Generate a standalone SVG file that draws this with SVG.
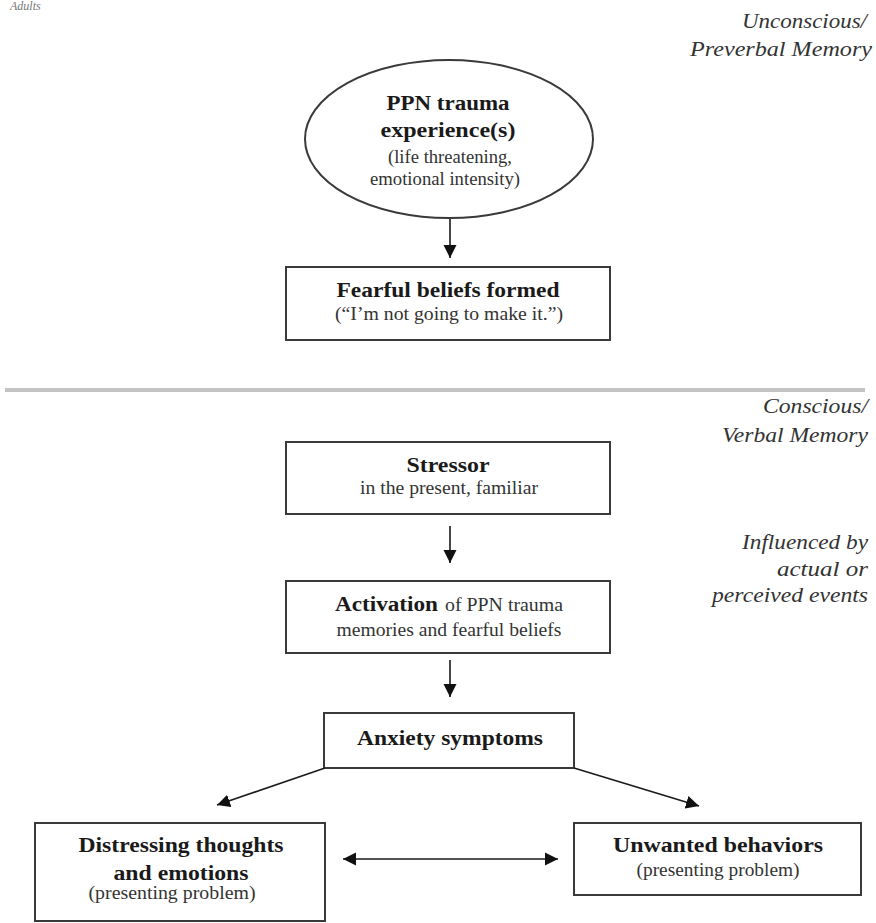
<svg xmlns="http://www.w3.org/2000/svg" width="876" height="923" viewBox="0 0 876 923">
<defs>
<style>
.bx{fill:#fff;stroke:#3a3a3a;stroke-width:2}
.t{font-family:"Liberation Serif","Times New Roman",serif;fill:#1a1a1a;text-anchor:middle}
.b{font-weight:bold;font-size:20px}
.r{font-size:18px;fill:#333}
.i{font-family:"Liberation Serif","Times New Roman",serif;font-style:italic;font-size:20px;fill:#333;text-anchor:end}
.c{stroke:#1a1a1a;stroke-width:1.6;fill:none}
</style>
<marker id="ah" markerUnits="userSpaceOnUse" markerWidth="14" markerHeight="14" viewBox="0 0 14 14" refX="13" refY="7" orient="auto-start-reverse">
<path d="M0,0.5 L13,7 L0,13.5 Z" fill="#111"/>
</marker>
</defs>
<rect width="876" height="923" fill="#fff"/>

<text x="10" y="10" class="i" style="text-anchor:start;font-size:12px;fill:#777">Adults</text>

<g id="labels">
<text x="867" y="28" class="i" textLength="125" lengthAdjust="spacingAndGlyphs">Unconscious/</text>
<text x="872" y="56" class="i" textLength="182" lengthAdjust="spacingAndGlyphs">Preverbal Memory</text>
<text x="868" y="413" class="i" textLength="105" lengthAdjust="spacingAndGlyphs">Conscious/</text>
<text x="868" y="442" class="i" textLength="146" lengthAdjust="spacingAndGlyphs">Verbal Memory</text>
<text x="868" y="549" class="i" textLength="126" lengthAdjust="spacingAndGlyphs">Influenced by</text>
<text x="868" y="576" class="i" textLength="91" lengthAdjust="spacingAndGlyphs">actual or</text>
<text x="868" y="602" class="i" textLength="156" lengthAdjust="spacingAndGlyphs">perceived events</text>
</g>

<line id="separator" x1="5" y1="390" x2="865" y2="390" stroke="#c4c4c4" stroke-width="4"/>

<g id="ppn">
<ellipse cx="449" cy="139" rx="144" ry="79" class="bx"/>
<text x="448" y="110" class="t b" textLength="123" lengthAdjust="spacingAndGlyphs">PPN trauma</text>
<text x="448" y="137" class="t b" textLength="135" lengthAdjust="spacingAndGlyphs">experience(s)</text>
<text x="450" y="163" class="t r" textLength="124" lengthAdjust="spacingAndGlyphs">(life threatening,</text>
<text x="445" y="185" class="t r" textLength="150" lengthAdjust="spacingAndGlyphs">emotional intensity)</text>
</g>

<g id="fearful">
<rect x="286" y="267" width="324" height="73" class="bx"/>
<text x="448" y="297" class="t b" textLength="223" lengthAdjust="spacingAndGlyphs">Fearful beliefs formed</text>
<text x="449" y="320" class="t r" textLength="228" lengthAdjust="spacingAndGlyphs">(“I’m not going to make it.”)</text>
</g>

<g id="stressor">
<rect x="286" y="442" width="324" height="72" class="bx"/>
<text x="448" y="472" class="t b" textLength="83" lengthAdjust="spacingAndGlyphs">Stressor</text>
<text x="449" y="494" class="t r" textLength="178" lengthAdjust="spacingAndGlyphs">in the present, familiar</text>
</g>

<g id="activation">
<rect x="286" y="581" width="324" height="72" class="bx"/>
<text x="335" y="611" class="t b" style="text-anchor:start" textLength="103" lengthAdjust="spacingAndGlyphs">Activation</text>
<text x="445" y="611" class="t r" style="text-anchor:start" textLength="118" lengthAdjust="spacingAndGlyphs">of PPN trauma</text>
<text x="449" y="636" class="t r" textLength="225" lengthAdjust="spacingAndGlyphs">memories and fearful beliefs</text>
</g>

<g id="anxiety">
<rect x="324" y="713" width="250" height="55" class="bx"/>
<text x="450" y="745" class="t b" textLength="186" lengthAdjust="spacingAndGlyphs">Anxiety symptoms</text>
</g>

<g id="distressing">
<rect x="35" y="823" width="290" height="98" class="bx"/>
<text x="181" y="852" class="t b" textLength="205" lengthAdjust="spacingAndGlyphs">Distressing thoughts</text>
<text x="181" y="880" class="t b" textLength="135" lengthAdjust="spacingAndGlyphs">and emotions</text>
<text x="172" y="899" class="t r" textLength="167" lengthAdjust="spacingAndGlyphs">(presenting problem)</text>
</g>

<g id="unwanted">
<rect x="574" y="823" width="287" height="72" class="bx"/>
<text x="718" y="852" class="t b" textLength="210" lengthAdjust="spacingAndGlyphs">Unwanted behaviors</text>
<text x="718" y="876" class="t r" textLength="163" lengthAdjust="spacingAndGlyphs">(presenting problem)</text>
</g>

<g id="connectors">
<line x1="450" y1="219" x2="450" y2="258" class="c" marker-end="url(#ah)"/>
<line x1="450" y1="526" x2="450" y2="563" class="c" marker-end="url(#ah)"/>
<line x1="450" y1="660" x2="450" y2="697" class="c" marker-end="url(#ah)"/>
<line x1="325" y1="768" x2="217" y2="805" class="c" marker-end="url(#ah)"/>
<line x1="574" y1="768" x2="699" y2="806" class="c" marker-end="url(#ah)"/>
<line x1="343" y1="859" x2="558" y2="859" class="c" marker-start="url(#ah)" marker-end="url(#ah)"/>
</g>
</svg>
